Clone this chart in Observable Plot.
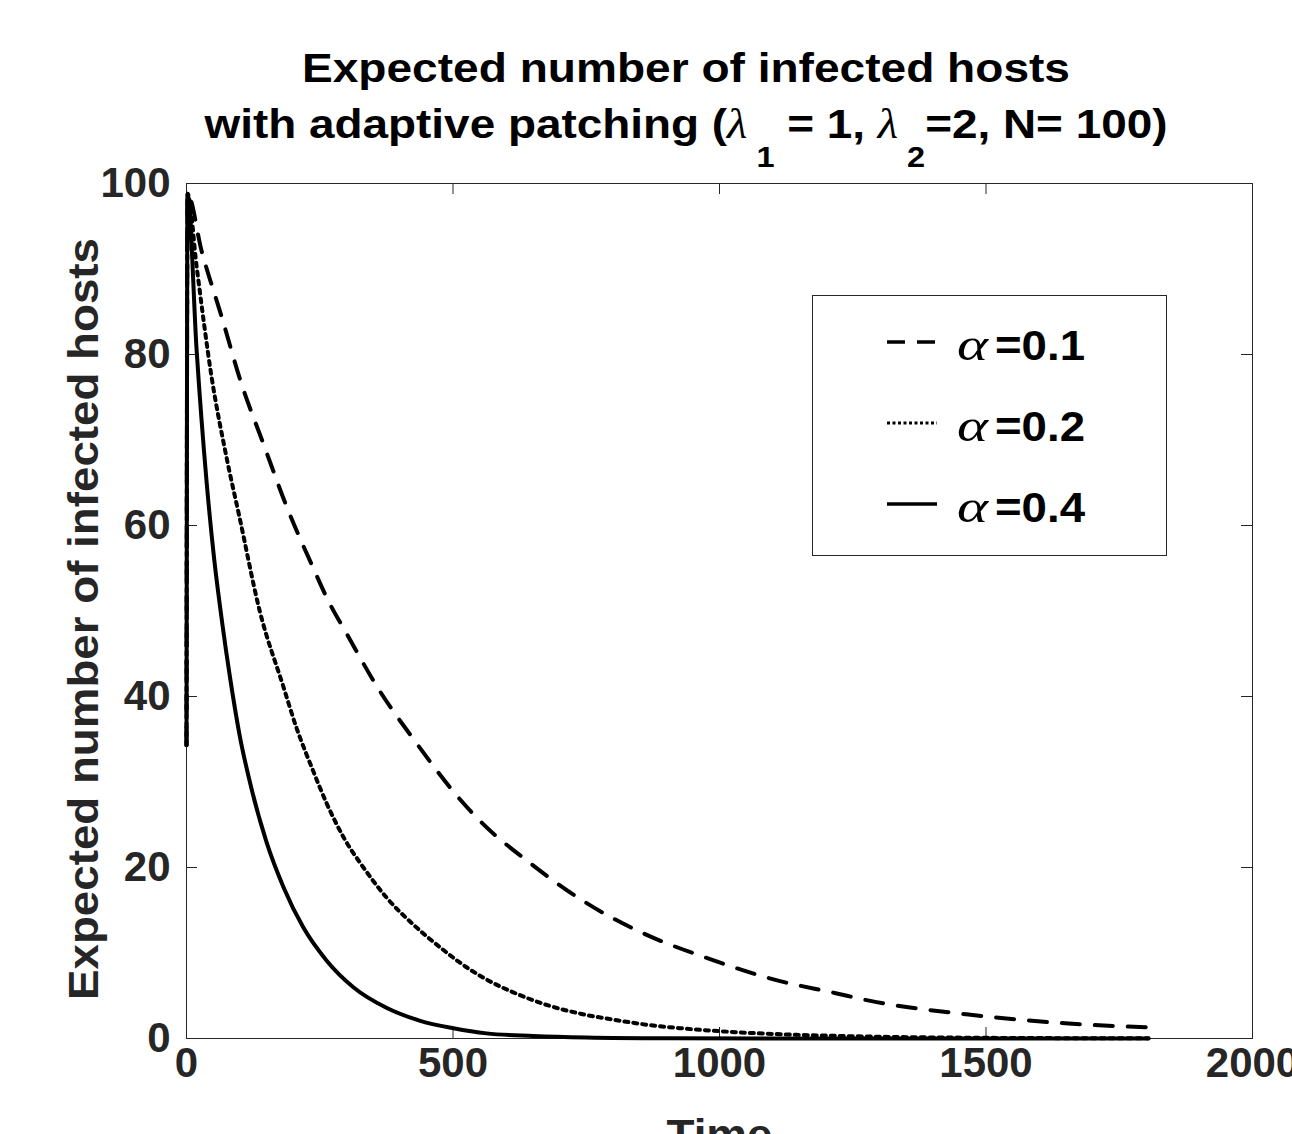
<!DOCTYPE html>
<html>
<head>
<meta charset="utf-8">
<script src="https://cdn.jsdelivr.net/npm/d3@7"></script>
<script src="https://cdn.jsdelivr.net/npm/@observablehq/plot@0.6"></script>
<style>
  html, body { margin: 0; padding: 0; background: #fff; overflow: hidden; }
  #wrap { position: relative; width: 1292px; height: 1134px; overflow: hidden; background: #fff; }
  #overlay { position: absolute; left: 0; top: 0; pointer-events: none; }
</style>
</head>
<body>
<div id="wrap"></div>
<script>
// ---- Data ----
const xTicks = [0, 500, 1000, 1500, 2000];
const yTicks = [0, 20, 40, 60, 80, 100];
const xLabel = "Time";
const yLabel = "Expected number of infected hosts";
const titleLine1 = "Expected number of infected hosts";
const alphaValues = ["0.1", "0.2", "0.4"];

// alpha = 0.1 (dashed)
const tA1 = [0, 2, 28, 66, 103, 144, 188, 238, 266, 300, 360, 432, 510, 553, 645, 749, 857, 977, 1096, 1218, 1283, 1467, 1655, 1805];
const vA1 = [34.3, 98.8, 92.2, 84.4, 76.6, 69.6, 62.2, 55.0, 51.2, 47.4, 40.9, 34.5, 28.2, 25.3, 20.5, 15.9, 12.3, 9.4, 7.0, 5.3, 4.4, 2.8, 1.75, 1.3];

// alpha = 0.2 (dotted)
const tA2 = [0, 2, 19, 47, 75, 99, 137, 182, 206, 235, 263, 295, 332, 375, 426, 475, 531, 560, 613, 677, 739, 801, 865, 927, 1002, 1114, 1240, 1500, 1805];
const vA2 = [34.3, 98.8, 90.3, 77.4, 68.0, 61.1, 50.1, 41.1, 36.4, 31.7, 27.5, 23.5, 20.0, 16.5, 13.3, 10.7, 8.1, 7.0, 5.4, 3.9, 2.9, 2.2, 1.6, 1.2, 0.85, 0.5, 0.28, 0.08, 0.02];

// alpha = 0.4 (solid)
const tA4 = [0, 2, 19, 38, 51, 67, 81, 99, 122, 150, 182, 219, 263, 313, 375, 437, 501, 563, 650, 750, 900, 1200, 1805];
const vA4 = [34.3, 98.8, 80.5, 64.9, 56.6, 48.6, 42.5, 35.7, 29.2, 23.0, 17.7, 13.0, 9.1, 6.0, 3.6, 2.1, 1.2, 0.6, 0.3, 0.12, 0.03, 0, 0];

const toRows = (ts, vs) => ts.map((t, i) => ({t, v: vs[i]}));
const rows1 = toRows(tA1, vA1);
const rows2 = toRows(tA2, vA2);
const rows4 = toRows(tA4, vA4);

const FONT = "'Liberation Sans', Arial, Helvetica, sans-serif";
const SERIF = "'Liberation Serif', 'Times New Roman', serif";
const INK = "#262626";

const plotW = 1292 - 186 - 40;
const plotH = 1134 - 183 - 96;

const chart = Plot.plot({
  width: 1292,
  height: 1134,
  marginLeft: 186,
  marginRight: 40,
  marginTop: 183,
  marginBottom: 96,
  x: {domain: [0, 2000]},
  y: {domain: [0, 100]},
  style: {fontFamily: FONT, fontWeight: "bold", background: "#fff", color: INK},
  marks: [
    Plot.frame({stroke: INK, strokeWidth: 1}),
    // inward ticks on all four sides
    Plot.tickX(xTicks, {x: d => d, insetTop: plotH - 11, stroke: INK, strokeWidth: 1}),
    Plot.tickX(xTicks, {x: d => d, insetBottom: plotH - 11, stroke: INK, strokeWidth: 1}),
    Plot.tickY(yTicks, {y: d => d, insetRight: plotW - 11, stroke: INK, strokeWidth: 1}),
    Plot.tickY(yTicks, {y: d => d, insetLeft: plotW - 11, stroke: INK, strokeWidth: 1}),
    Plot.axisX({ticks: xTicks, tickSize: 0, tickPadding: 9, fontSize: 42, fill: INK, label: null, tickFormat: d => String(d)}),
    Plot.axisY({ticks: yTicks, tickSize: 0, tickPadding: 16, fontSize: 42, fill: INK, label: null, tickFormat: d => String(d)}),
    Plot.line(rows1, {x: "t", y: "v", stroke: "#000", strokeWidth: 4, strokeDasharray: "18,15", curve: "monotone-x"}),
    Plot.line(rows2, {x: "t", y: "v", stroke: "#000", strokeWidth: 4, strokeDasharray: "4,5", curve: "monotone-x"}),
    Plot.line(rows4, {x: "t", y: "v", stroke: "#000", strokeWidth: 4, curve: "monotone-x"}),
    Plot.text([xLabel], {frameAnchor: "bottom", dy: 81, lineAnchor: "top", textAnchor: "middle", fontSize: 42, fontWeight: "bold", fill: INK}),
    Plot.text([yLabel], {frameAnchor: "left", rotate: -90, dx: -89, dy: 8, lineAnchor: "bottom", textAnchor: "middle", fontSize: 42, fontWeight: "bold", fill: INK})
  ]
});

// widen the axis titles to the reference's wider letterforms
chart.querySelectorAll("text").forEach(t => {
  if (t.textContent === yLabel) { t.setAttribute("textLength", 762); t.setAttribute("lengthAdjust", "spacingAndGlyphs"); }
  if (t.textContent === xLabel) { t.setAttribute("textLength", 106); t.setAttribute("lengthAdjust", "spacingAndGlyphs"); }
});

const wrap = document.getElementById("wrap");
wrap.appendChild(chart);

// ---- Title and legend overlay ----
const lam = `<tspan font-family="${SERIF}" font-style="italic" font-weight="normal" font-size="42">λ</tspan>`;
const title2 =
  `with adaptive patching (${lam}<tspan dx="8" dy="29" font-size="29">1</tspan><tspan dy="-29"> = 1, </tspan>` +
  `${lam}<tspan dx="8" dy="29" font-size="29">2</tspan><tspan dy="-29">=2, N= 100)</tspan>`;

const dashes = ["18,12", "3,2.5", null];
let legend = `<rect x="812.5" y="295.5" width="354" height="260" fill="#fff" stroke="${INK}" stroke-width="1"/>`;
alphaValues.forEach((a, i) => {
  const base = 360 + i * 81;
  const ly = base - 18;
  legend += `<line x1="887" x2="937" y1="${ly}" y2="${ly}" stroke="#000" stroke-width="${i === 1 ? 3 : 3.5}" ${dashes[i] ? `stroke-dasharray="${dashes[i]}"` : ""}/>`;
  legend += `<text x="957" y="${base}" fill="#000" font-family="${SERIF}" font-style="italic" font-size="46" textLength="31" lengthAdjust="spacingAndGlyphs">α</text>`;
  legend += `<text x="995" y="${base}" fill="#000" font-family="${FONT}" font-weight="bold" font-size="42" textLength="90" lengthAdjust="spacingAndGlyphs">=${a}</text>`;
});

const overlay = `
<svg id="overlay" xmlns="http://www.w3.org/2000/svg" width="1292" height="1134" viewBox="0 0 1292 1134">
  <g font-family="${FONT}" font-weight="bold" fill="#000" text-anchor="middle">
    <text x="686" y="82" font-size="41" textLength="768" lengthAdjust="spacingAndGlyphs">${titleLine1}</text>
    <text x="686" y="138" font-size="41" textLength="963" lengthAdjust="spacingAndGlyphs">${title2}</text>
  </g>
  ${legend}
</svg>`;
wrap.insertAdjacentHTML("beforeend", overlay);
</script>
</body>
</html>
